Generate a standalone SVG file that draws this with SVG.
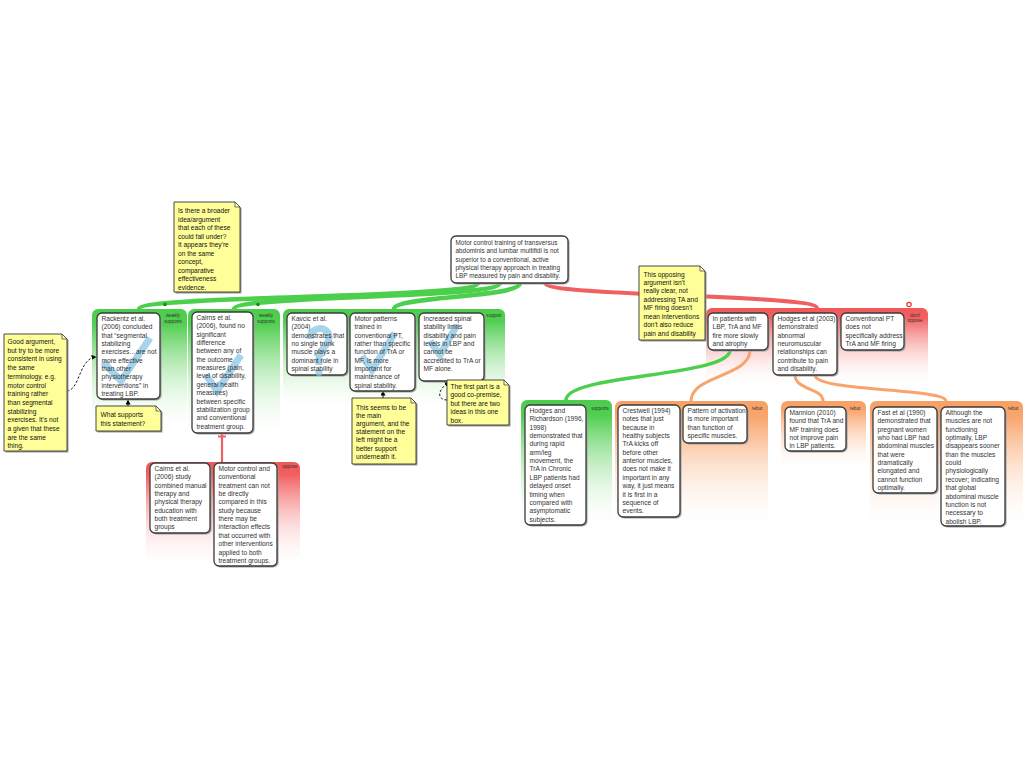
<svg xmlns="http://www.w3.org/2000/svg" width="1024" height="768" viewBox="0 0 1024 768">
<defs>
<linearGradient id="gG" x1="0" y1="0" x2="0" y2="1"><stop offset="0" stop-color="#4ccc4c"/><stop offset="0.12" stop-color="#52cf52"/><stop offset="1" stop-color="#ffffff" stop-opacity="0"/></linearGradient>
<linearGradient id="gR" x1="0" y1="0" x2="0" y2="1"><stop offset="0" stop-color="#f05858"/><stop offset="0.12" stop-color="#f26060"/><stop offset="1" stop-color="#ffffff" stop-opacity="0"/></linearGradient>
<linearGradient id="gO" x1="0" y1="0" x2="0" y2="1"><stop offset="0" stop-color="#f8a066"/><stop offset="0.12" stop-color="#f9a56c"/><stop offset="1" stop-color="#ffffff" stop-opacity="0"/></linearGradient>
<marker id="ah" markerWidth="5" markerHeight="5" refX="4.5" refY="2.5" orient="auto" markerUnits="userSpaceOnUse"><path d="M0,0 L5,2.5 L0,5 z" fill="#000"/></marker>
</defs>
<style>
.box{fill:#fff;stroke:#3a3a3a;stroke-width:1.3}
.sh{fill:#a0a0a0}
.t{font-family:"Liberation Sans",Arial,sans-serif;font-size:6.6px;fill:#333}
.tc{font-size:6.4px}
.lbl{font-family:"Liberation Sans",Arial,sans-serif;font-size:4.6px;fill:#333;text-anchor:middle}
.note{fill:#ffff99;stroke:#333;stroke-width:0.9}
.nsh{fill:#999}
.fold{fill:#ffffcc;stroke:#333;stroke-width:0.7}
.nt{font-family:"Liberation Sans",Arial,sans-serif;font-size:6.6px;fill:#111}
.g{fill:none;stroke:#4ccf4c;stroke-width:4.5;stroke-linecap:round}
.gs{fill:none;stroke:#4ccf4c;stroke-width:3.5;stroke-linecap:round}
.r{fill:none;stroke:#f06060;stroke-width:4;stroke-linecap:round}
.rs{fill:none;stroke:#f06060;stroke-width:2.2}
.o{fill:none;stroke:#f8a46c;stroke-width:3;stroke-linecap:round}
.nc{fill:none;stroke:#000;stroke-width:0.9}
.dash{stroke-dasharray:2.5,1.8}
.ic{fill:none;stroke:#88c6e6;stroke-width:7;opacity:0.75}
.icd{fill:#88c6e6;opacity:0.75}
</style>

<g id="containers">
<rect x="92" y="309" width="95" height="125" rx="6" fill="url(#gG)"/>
<text class="lbl" x="173" y="317">weakly</text><text class="lbl" x="173" y="322.5">supports</text>
<rect x="188" y="309" width="92" height="130" rx="6" fill="url(#gG)"/>
<text class="lbl" x="266" y="317">weakly</text><text class="lbl" x="266" y="322.5">supports</text>
<rect x="283" y="309" width="222" height="105" rx="6" fill="url(#gG)"/>
<text class="lbl" x="494" y="317">support</text>
<rect x="706" y="308" width="222" height="80" rx="6" fill="url(#gR)"/>
<text class="lbl" x="915" y="316.5">don't</text><text class="lbl" x="915" y="322">oppose</text>
<rect x="146" y="462" width="154" height="108" rx="6" fill="url(#gR)"/>
<text class="lbl" x="290" y="468">oppose</text>
<rect x="521" y="400" width="91" height="132" rx="6" fill="url(#gG)"/>
<text class="lbl" x="600" y="410">supports</text>
<rect x="615" y="401" width="153" height="130" rx="6" fill="url(#gO)"/>
<text class="lbl" x="757" y="410">rebut</text>
<rect x="781" y="401" width="85" height="72" rx="6" fill="url(#gO)"/>
<text class="lbl" x="855" y="410">rebut</text>
<rect x="870" y="401" width="153" height="130" rx="6" fill="url(#gO)"/>
<text class="lbl" x="1013" y="410">rebut</text>
</g>

<g id="connectors">
<path class="g" d="M478,283 C478,299 139,295 139,309"/>
<path class="g" d="M500,283 C500,299 234,295 234,309"/>
<path class="g" d="M520,283 C520,298 394,296 394,309"/>
<path class="r" d="M545,283 C545,297 817,294 817,308"/>
<circle cx="165" cy="304.5" r="1.8" fill="#1a8a1a"/>
<circle cx="258" cy="304.5" r="1.8" fill="#1a8a1a"/>
<circle cx="909" cy="304.5" r="2.2" fill="#fff" stroke="#e33" stroke-width="1.2"/>
<path class="rs" d="M222,433 V462 M218,436.5 H226"/>
<path class="gs" d="M730,350 C730,377 566,374 566,400"/>
<path class="o" d="M750,350 C750,377 691,375 691,401"/>
<path class="o" d="M795,375 C795,390 823,388 823,401"/>
<path class="o" d="M815,375 C815,392 946,388 946,401"/>
<path class="nc dash" d="M67,391 C80,390 79,358 96,357" marker-end="url(#ah)"/>
<path class="nc" d="M128,406 V400" marker-end="url(#ah)"/>
<path class="nc" d="M383,398 V391" marker-end="url(#ah)"/>
<path class="nc dash" d="M447,400 C437,400 437,390 449,382" marker-end="url(#ah)"/>
</g>

<g id="claim">
<rect class="sh" x="452.5" y="237.5" width="117" height="47" rx="5"/>
<rect class="box" x="451" y="236" width="117" height="47" rx="5"/>
<text class="t tc"><tspan x="455.5" y="245">Motor control training of transversus</tspan><tspan x="455.5" y="253.3">abdominis and lumbar multifidi is not</tspan><tspan x="455.5" y="261.7">superior to a conventional, active</tspan><tspan x="455.5" y="270">physical therapy approach in treating</tspan><tspan x="455.5" y="278.3">LBP measured by pain and disability.</tspan></text>
</g>

<g id="rackentz">
<rect class="sh" x="98.5" y="314.5" width="63" height="86" rx="5"/>
<rect class="box" x="97" y="313" width="63" height="86" rx="5"/>
<polyline class="ic" points="103,362 121,381 150,338"/>
<text class="t"><tspan x="101.5" y="321">Rackentz et al.</tspan><tspan x="101.5" y="329.35">(2006) concluded</tspan><tspan x="101.5" y="337.7">that “segmental</tspan><tspan x="101.5" y="346.05">stabilizing</tspan><tspan x="101.5" y="354.4">exercises…are not</tspan><tspan x="101.5" y="362.75">more effective</tspan><tspan x="101.5" y="371.1">than other</tspan><tspan x="101.5" y="379.45">physiotherapy</tspan><tspan x="101.5" y="387.8">interventions” in</tspan><tspan x="101.5" y="396.15">treating LBP.</tspan></text>
</g>

<g id="cairns">
<rect class="sh" x="193.5" y="313.5" width="61" height="121" rx="5"/>
<rect class="box" x="192" y="312" width="61" height="121" rx="5"/>
<polyline class="ic" points="206,375 217,391 241,355"/>
<text class="t"><tspan x="196.5" y="320">Cairns et al.</tspan><tspan x="196.5" y="328.35">(2006), found no</tspan><tspan x="196.5" y="336.7">significant</tspan><tspan x="196.5" y="345.05">difference</tspan><tspan x="196.5" y="353.4">between any of</tspan><tspan x="196.5" y="361.75">the outcome</tspan><tspan x="196.5" y="370.1">measures (pain,</tspan><tspan x="196.5" y="378.45">level of disability,</tspan><tspan x="196.5" y="386.8">general health</tspan><tspan x="196.5" y="395.15">measures)</tspan><tspan x="196.5" y="403.5">between specific</tspan><tspan x="196.5" y="411.85">stabilization group</tspan><tspan x="196.5" y="420.2">and conventional</tspan><tspan x="196.5" y="428.55">treatment group.</tspan></text>
</g>

<g id="kavcic">
<rect class="sh" x="288.5" y="314.5" width="60" height="62" rx="5"/>
<rect class="box" x="287" y="313" width="60" height="62" rx="5"/>
<path class="ic" d="M310,339 C310,326 329,325 329,337 C329,347 319,348 319,358 V365"/>
<circle class="icd" cx="319" cy="372.5" r="3.6"/>
<text class="t"><tspan x="291.5" y="321">Kavcic et al.</tspan><tspan x="291.5" y="329.35">(2004)</tspan><tspan x="291.5" y="337.7">demonstrates that</tspan><tspan x="291.5" y="346.05">no single trunk</tspan><tspan x="291.5" y="354.4">muscle plays a</tspan><tspan x="291.5" y="362.75">dominant role in</tspan><tspan x="291.5" y="371.1">spinal stability</tspan></text>
</g>

<g id="motor-patterns">
<rect class="sh" x="351.5" y="314.5" width="65" height="78" rx="5"/>
<rect class="box" x="350" y="313" width="65" height="78" rx="5"/>
<polyline class="ic" points="362,356 372,370 395,333"/>
<text class="t"><tspan x="354.5" y="321">Motor patterns</tspan><tspan x="354.5" y="329.35">trained in</tspan><tspan x="354.5" y="337.7">conventional PT,</tspan><tspan x="354.5" y="346.05">rather than specific</tspan><tspan x="354.5" y="354.4">function of TrA or</tspan><tspan x="354.5" y="362.75">MF, is more</tspan><tspan x="354.5" y="371.1">important for</tspan><tspan x="354.5" y="379.45">maintenance of</tspan><tspan x="354.5" y="387.8">spinal stability.</tspan></text>
</g>

<g id="increased">
<rect class="sh" x="420.5" y="314.5" width="65" height="68" rx="5"/>
<rect class="box" x="419" y="313" width="65" height="68" rx="5"/>
<polyline class="ic" points="430,341 440,355 457,325"/>
<text class="t"><tspan x="423.5" y="321">Increased spinal</tspan><tspan x="423.5" y="329.35">stability limits</tspan><tspan x="423.5" y="337.7">disability and pain</tspan><tspan x="423.5" y="346.05">levels in LBP and</tspan><tspan x="423.5" y="354.4">cannot be</tspan><tspan x="423.5" y="362.75">accredited to TrA or</tspan><tspan x="423.5" y="371.1">MF alone.</tspan></text>
</g>

<g id="in-patients">
<rect class="sh" x="709.5" y="314.5" width="60" height="37" rx="5"/>
<rect class="box" x="708" y="313" width="60" height="37" rx="5"/>
<text class="t"><tspan x="712.5" y="321">In patients with</tspan><tspan x="712.5" y="329.35">LBP, TrA and MF</tspan><tspan x="712.5" y="337.7">fire more slowly</tspan><tspan x="712.5" y="346.05">and atrophy</tspan></text>
</g>

<g id="hodges2003">
<rect class="sh" x="774.5" y="314.5" width="64" height="62" rx="5"/>
<rect class="box" x="773" y="313" width="64" height="62" rx="5"/>
<text class="t"><tspan x="777.5" y="321">Hodges et al (2003)</tspan><tspan x="777.5" y="329.35">demonstrated</tspan><tspan x="777.5" y="337.7">abnormal</tspan><tspan x="777.5" y="346.05">neuromuscular</tspan><tspan x="777.5" y="354.4">relationships can</tspan><tspan x="777.5" y="362.75">contribute to pain</tspan><tspan x="777.5" y="371.1">and disability.</tspan></text>
</g>

<g id="conventional-pt">
<rect class="sh" x="842.5" y="314.5" width="63" height="37" rx="5"/>
<rect class="box" x="841" y="313" width="63" height="37" rx="5"/>
<text class="t"><tspan x="845.5" y="321">Conventional PT</tspan><tspan x="845.5" y="329.35">does not</tspan><tspan x="845.5" y="337.7">specifically address</tspan><tspan x="845.5" y="346.05">TrA and MF firing</tspan></text>
</g>

<g id="cairns-study">
<rect class="sh" x="151.5" y="464.5" width="60" height="70" rx="5"/>
<rect class="box" x="150" y="463" width="60" height="70" rx="5"/>
<text class="t"><tspan x="154.5" y="471">Cairns et al.</tspan><tspan x="154.5" y="479.35">(2006) study</tspan><tspan x="154.5" y="487.7">combined manual</tspan><tspan x="154.5" y="496.05">therapy and</tspan><tspan x="154.5" y="504.4">physical therapy</tspan><tspan x="154.5" y="512.75">education with</tspan><tspan x="154.5" y="521.1">both treatment</tspan><tspan x="154.5" y="529.45">groups</tspan></text>
</g>

<g id="motor-control-conventional">
<rect class="sh" x="215.5" y="464.5" width="63" height="103" rx="5"/>
<rect class="box" x="214" y="463" width="63" height="103" rx="5"/>
<text class="t"><tspan x="218.5" y="471">Motor control and</tspan><tspan x="218.5" y="479.35">conventional</tspan><tspan x="218.5" y="487.7">treatment can not</tspan><tspan x="218.5" y="496.05">be directly</tspan><tspan x="218.5" y="504.4">compared in this</tspan><tspan x="218.5" y="512.75">study because</tspan><tspan x="218.5" y="521.1">there may be</tspan><tspan x="218.5" y="529.45">interaction effects</tspan><tspan x="218.5" y="537.8">that occurred with</tspan><tspan x="218.5" y="546.15">other interventions</tspan><tspan x="218.5" y="554.5">applied to both</tspan><tspan x="218.5" y="562.85">treatment groups.</tspan></text>
</g>

<g id="hodges-richardson">
<rect class="sh" x="526.5" y="406.5" width="61" height="120" rx="5"/>
<rect class="box" x="525" y="405" width="61" height="120" rx="5"/>
<text class="t"><tspan x="529.5" y="413">Hodges and</tspan><tspan x="529.5" y="421.35">Richardson (1996,</tspan><tspan x="529.5" y="429.7">1998)</tspan><tspan x="529.5" y="438.05">demonstrated that</tspan><tspan x="529.5" y="446.4">during rapid</tspan><tspan x="529.5" y="454.75">arm/leg</tspan><tspan x="529.5" y="463.1">movement, the</tspan><tspan x="529.5" y="471.45">TrA in Chronic</tspan><tspan x="529.5" y="479.8">LBP patients had</tspan><tspan x="529.5" y="488.15">delayed onset</tspan><tspan x="529.5" y="496.5">timing when</tspan><tspan x="529.5" y="504.85">compared with</tspan><tspan x="529.5" y="513.2">asymptomatic</tspan><tspan x="529.5" y="521.55">subjects.</tspan></text>
</g>

<g id="crestwell">
<rect class="sh" x="619.5" y="406.5" width="62" height="112" rx="5"/>
<rect class="box" x="618" y="405" width="62" height="112" rx="5"/>
<text class="t"><tspan x="622.5" y="413">Crestwell (1994)</tspan><tspan x="622.5" y="421.35">notes that just</tspan><tspan x="622.5" y="429.7">because in</tspan><tspan x="622.5" y="438.05">healthy subjects</tspan><tspan x="622.5" y="446.4">TrA kicks off</tspan><tspan x="622.5" y="454.75">before other</tspan><tspan x="622.5" y="463.1">anterior muscles,</tspan><tspan x="622.5" y="471.45">does not make it</tspan><tspan x="622.5" y="479.8">important in any</tspan><tspan x="622.5" y="488.15">way, it just means</tspan><tspan x="622.5" y="496.5">it is first in a</tspan><tspan x="622.5" y="504.85">sequence of</tspan><tspan x="622.5" y="513.2">events.</tspan></text>
</g>

<g id="pattern-activation">
<rect class="sh" x="684.5" y="406.5" width="64" height="38" rx="5"/>
<rect class="box" x="683" y="405" width="64" height="38" rx="5"/>
<text class="t"><tspan x="687.5" y="413">Pattern of activation</tspan><tspan x="687.5" y="421.35">is more important</tspan><tspan x="687.5" y="429.7">than function of</tspan><tspan x="687.5" y="438.05">specific muscles.</tspan></text>
</g>

<g id="mannion">
<rect class="sh" x="786.5" y="408.5" width="61" height="44" rx="5"/>
<rect class="box" x="785" y="407" width="61" height="44" rx="5"/>
<text class="t"><tspan x="789.5" y="415">Mannion (2010)</tspan><tspan x="789.5" y="423.35">found that TrA and</tspan><tspan x="789.5" y="431.7">MF training does</tspan><tspan x="789.5" y="440.05">not improve pain</tspan><tspan x="789.5" y="448.4">in LBP patients.</tspan></text>
</g>

<g id="fast">
<rect class="sh" x="874.5" y="408.5" width="64" height="86" rx="5"/>
<rect class="box" x="873" y="407" width="64" height="86" rx="5"/>
<text class="t"><tspan x="877.5" y="415">Fast et al (1990)</tspan><tspan x="877.5" y="423.35">demonstrated that</tspan><tspan x="877.5" y="431.7">pregnant women</tspan><tspan x="877.5" y="440.05">who had LBP had</tspan><tspan x="877.5" y="448.4">abdominal muscles</tspan><tspan x="877.5" y="456.75">that were</tspan><tspan x="877.5" y="465.1">dramatically</tspan><tspan x="877.5" y="473.45">elongated and</tspan><tspan x="877.5" y="481.8">cannot function</tspan><tspan x="877.5" y="490.15">optimally.</tspan></text>
</g>

<g id="although">
<rect class="sh" x="942.5" y="408.5" width="64" height="119" rx="5"/>
<rect class="box" x="941" y="407" width="64" height="119" rx="5"/>
<text class="t"><tspan x="945.5" y="415">Although the</tspan><tspan x="945.5" y="423.35">muscles are not</tspan><tspan x="945.5" y="431.7">functioning</tspan><tspan x="945.5" y="440.05">optimally, LBP</tspan><tspan x="945.5" y="448.4">disappears sooner</tspan><tspan x="945.5" y="456.75">than the muscles</tspan><tspan x="945.5" y="465.1">could</tspan><tspan x="945.5" y="473.45">physiologically</tspan><tspan x="945.5" y="481.8">recover; indicating</tspan><tspan x="945.5" y="490.15">that global</tspan><tspan x="945.5" y="498.5">abdominal muscle</tspan><tspan x="945.5" y="506.85">function is not</tspan><tspan x="945.5" y="515.2">necessary to</tspan><tspan x="945.5" y="523.55">abolish LBP.</tspan></text>
</g>

<g id="note-broader">
<path class="nsh" d="M175.5,203.5 H236.5 L241.5,208.5 V293.5 H175.5 Z"/>
<path class="note" d="M174,202 H235 L240,207 V292 H174 Z"/>
<path class="fold" d="M235,202 V207 H240 Z"/>
<text class="nt"><tspan x="178" y="213">Is there a broader</tspan><tspan x="178" y="221.5">idea/argument</tspan><tspan x="178" y="230">that each of these</tspan><tspan x="178" y="238.5">could fall under?</tspan><tspan x="178" y="247">It appears they're</tspan><tspan x="178" y="255.5">on the same</tspan><tspan x="178" y="264">concept,</tspan><tspan x="178" y="272.5">comparative</tspan><tspan x="178" y="281">effectiveness</tspan><tspan x="178" y="289.5">evidence.</tspan></text>
</g>

<g id="note-terminology">
<path class="nsh" d="M5.5,335.5 H63.5 L68.5,340.5 V452.5 H5.5 Z"/>
<path class="note" d="M4,334 H62 L67,339 V451 H4 Z"/>
<path class="fold" d="M62,334 V339 H67 Z"/>
<text class="nt"><tspan x="7.5" y="344">Good argument,</tspan><tspan x="7.5" y="352.7">but try to be more</tspan><tspan x="7.5" y="361.4">consistent in using</tspan><tspan x="7.5" y="370.1">the same</tspan><tspan x="7.5" y="378.8">terminology. e.g.</tspan><tspan x="7.5" y="387.5">motor control</tspan><tspan x="7.5" y="396.2">training rather</tspan><tspan x="7.5" y="404.9">than segmental</tspan><tspan x="7.5" y="413.6">stabilizing</tspan><tspan x="7.5" y="422.3">exercises. It's not</tspan><tspan x="7.5" y="431">a given that these</tspan><tspan x="7.5" y="439.7">are the same</tspan><tspan x="7.5" y="448.4">thing.</tspan></text>
</g>

<g id="note-what-supports">
<path class="nsh" d="M97.5,407.5 H157.5 L162.5,412.5 V432.5 H97.5 Z"/>
<path class="note" d="M96,406 H156 L161,411 V431 H96 Z"/>
<path class="fold" d="M156,406 V411 H161 Z"/>
<text class="nt"><tspan x="100.5" y="417">What supports</tspan><tspan x="100.5" y="425.5">this statement?</tspan></text>
</g>

<g id="note-main-argument">
<path class="nsh" d="M353.5,399.5 H412.5 L417.5,404.5 V465.5 H353.5 Z"/>
<path class="note" d="M352,398 H411 L416,403 V464 H352 Z"/>
<path class="fold" d="M411,398 V403 H416 Z"/>
<text class="nt"><tspan x="356" y="409.5">This seems to be</tspan><tspan x="356" y="417.7">the main</tspan><tspan x="356" y="425.9">argument, and the</tspan><tspan x="356" y="434.1">statement on the</tspan><tspan x="356" y="442.3">left might be a</tspan><tspan x="356" y="450.5">better support</tspan><tspan x="356" y="458.7">underneath it.</tspan></text>
</g>

<g id="note-co-premise">
<path class="nsh" d="M448.5,381.5 H505.5 L510.5,386.5 V426.5 H448.5 Z"/>
<path class="note" d="M447,380 H504 L509,385 V425 H447 Z"/>
<path class="fold" d="M504,380 V385 H509 Z"/>
<text class="nt"><tspan x="450.5" y="388.5">The first part is a</tspan><tspan x="450.5" y="397">good co-premise,</tspan><tspan x="450.5" y="405.5">but there are two</tspan><tspan x="450.5" y="414">ideas in this one</tspan><tspan x="450.5" y="422.5">box.</tspan></text>
</g>

<g id="note-opposing">
<path class="nsh" d="M640.5,267.5 H701.5 L706.5,272.5 V341.5 H640.5 Z"/>
<path class="note" d="M639,266 H700 L705,271 V340 H639 Z"/>
<path class="fold" d="M700,266 V271 H705 Z"/>
<text class="nt"><tspan x="643.5" y="276.5">This opposing</tspan><tspan x="643.5" y="284.9">argument isn't</tspan><tspan x="643.5" y="293.4">really clear, not</tspan><tspan x="643.5" y="301.8">addressing TA and</tspan><tspan x="643.5" y="310.2">MF firing doesn't</tspan><tspan x="643.5" y="318.7">mean interventions</tspan><tspan x="643.5" y="327.1">don't also reduce</tspan><tspan x="643.5" y="335.5">pain and disability</tspan></text>
</g>
</svg>
